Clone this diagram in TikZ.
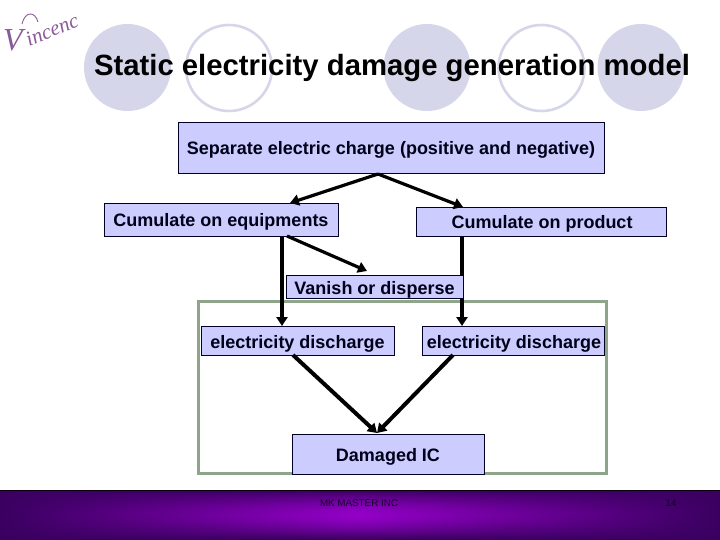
\documentclass[tikz,border=0pt]{standalone}
\usepackage{fontspec}
\setmainfont{Liberation Sans}
\newfontfamily\logofont{Liberation Serif}
\usetikzlibrary{arrows.meta}
\definecolor{boxfill}{HTML}{CCCCFF}
\definecolor{ringc}{HTML}{D6D6EA}
\definecolor{framec}{HTML}{8FA58A}
\definecolor{logoc}{HTML}{8A5A98}
\definecolor{footdark}{HTML}{3A0060}
\definecolor{footbright}{HTML}{9400C8}
\definecolor{foottext}{HTML}{1A0030}
\newcommand{\lbl}[2]{\raisebox{-#1pt}[0pt][0pt]{#2}}
\tikzset{
  x=1pt,y=-1pt,
  flowbox/.style={draw=black!85!blue,line width=0.8pt,fill=boxfill,inner sep=0pt,font=\bfseries\fontsize{18}{20}\selectfont,text=black!90!blue},
  arrowline/.style={draw=black,line width=3.2pt,-{Triangle[length=9pt,width=11pt]}},
  disc/.style={circle,fill=ringc,minimum size=87pt,inner sep=0pt},
  ring/.style={circle,draw=ringc,line width=2.6pt,minimum size=86pt,inner sep=0pt},
  foottxt/.style={inner sep=0pt,text=foottext,font=\fontsize{9.8}{12}\selectfont},
}
\begin{document}
\begin{tikzpicture}
\useasboundingbox (0,0) rectangle (720,540);
\fill[white] (0,0) rectangle (720,540);
% decorative circles
\node[disc] (c1) at (127.5,67.5) {};
\node[ring] (c2) at (229,68) {};
\node[disc] (c3) at (427,67.5) {};
\node[ring] (c4) at (541.5,68) {};
\node[disc] (c5) at (641,67.5) {};
% logo
\node[text=logoc,font=\logofont\itshape\fontsize{21}{21}\selectfont,rotate=22,inner sep=0pt] (logoA) at (52,30) {incenc};
\node[text=logoc,font=\logofont\itshape\fontsize{32}{32}\selectfont,inner sep=0pt] (logoB) at (13,40) {V};
\draw[logoc,line width=0.9pt] (22,24) .. controls (25,11) and (35,11) .. (38,22);
% title
\node[inner sep=0pt,font=\bfseries\fontsize{29.3}{32}\selectfont,text=black] (title) at (392,68) {Static electricity damage generation model};
% green frame
\draw[framec,line width=3pt] (198,301) rectangle (606,473);
% boxes that arrows start from or end on
\node[flowbox,minimum width=426pt,minimum height=51pt] (sep) at (391,147.5) {\lbl{7.5}{Separate electric charge (positive and negative)}};
\node[flowbox,minimum width=234pt,minimum height=33pt] (equip) at (221,219.5) {\lbl{6.5}{Cumulate on equipments}};
\node[flowbox,minimum width=250pt,minimum height=29pt] (prod) at (541,221.5) {\hspace{2pt}\lbl{7}{Cumulate on product}};
\node[flowbox,minimum width=193pt,minimum height=29pt] (ed1) at (297.5,340.5) {\lbl{7.5}{electricity discharge}};
\node[flowbox,minimum width=182pt,minimum height=29pt] (ed2) at (513,340.5) {\hspace{2pt}\lbl{7.5}{electricity discharge}};
\node[flowbox,minimum width=192pt,minimum height=40pt] (dam) at (388,454) {\lbl{7.5}{Damaged IC}};
\coordinate (s0) at (378,174);
\coordinate (e0) at (282,237);
\coordinate (e1) at (287,236);
\coordinate (p0) at (462,237);
\coordinate (t1) at (290,203);
\coordinate (t2) at (463,207);
\coordinate (t3) at (282,326);
\coordinate (t4) at (462,326);
\coordinate (t5) at (367,271);
\coordinate (d1) at (293,355);
\coordinate (d2) at (453,355);
\coordinate (t6) at (377,433);
\draw[arrowline] (s0) -- (t1);
\draw[arrowline] (s0) -- (t2);
\draw[arrowline] (e0) -- (t3);
\draw[arrowline] (p0) -- (t4);
\draw[arrowline] (e1) -- (t5);
\draw[arrowline,line width=4pt] (d1) -- (t6);
\draw[arrowline,line width=4pt] (d2) -- (t6);
% vanish box above the verticals
\node[flowbox,minimum width=177pt,minimum height=23pt] (van) at (374.5,286.5) {\lbl{7.5}{Vanish or disperse}};
% footer: horizontal strips, each a left-right gradient
\foreach \i in {0,...,49} {
  \pgfmathsetmacro{\mixv}{100*(1-(abs(\i-24.5)/24.5)^1.6)}
  \colorlet{stripmid}{footbright!\mixv!footdark}
  \shade[left color=footdark,right color=footdark,middle color=stripmid] (0,490+\i) rectangle (720,491.6+\i);
}
\draw[black!80!footdark,line width=0.8pt] (0,490.4) -- (720,490.4);
\node[foottxt] (foot) at (359,503) {MK MASTER INC};
\node[foottxt] (page) at (671,503) {14};
\end{tikzpicture}
\end{document}
